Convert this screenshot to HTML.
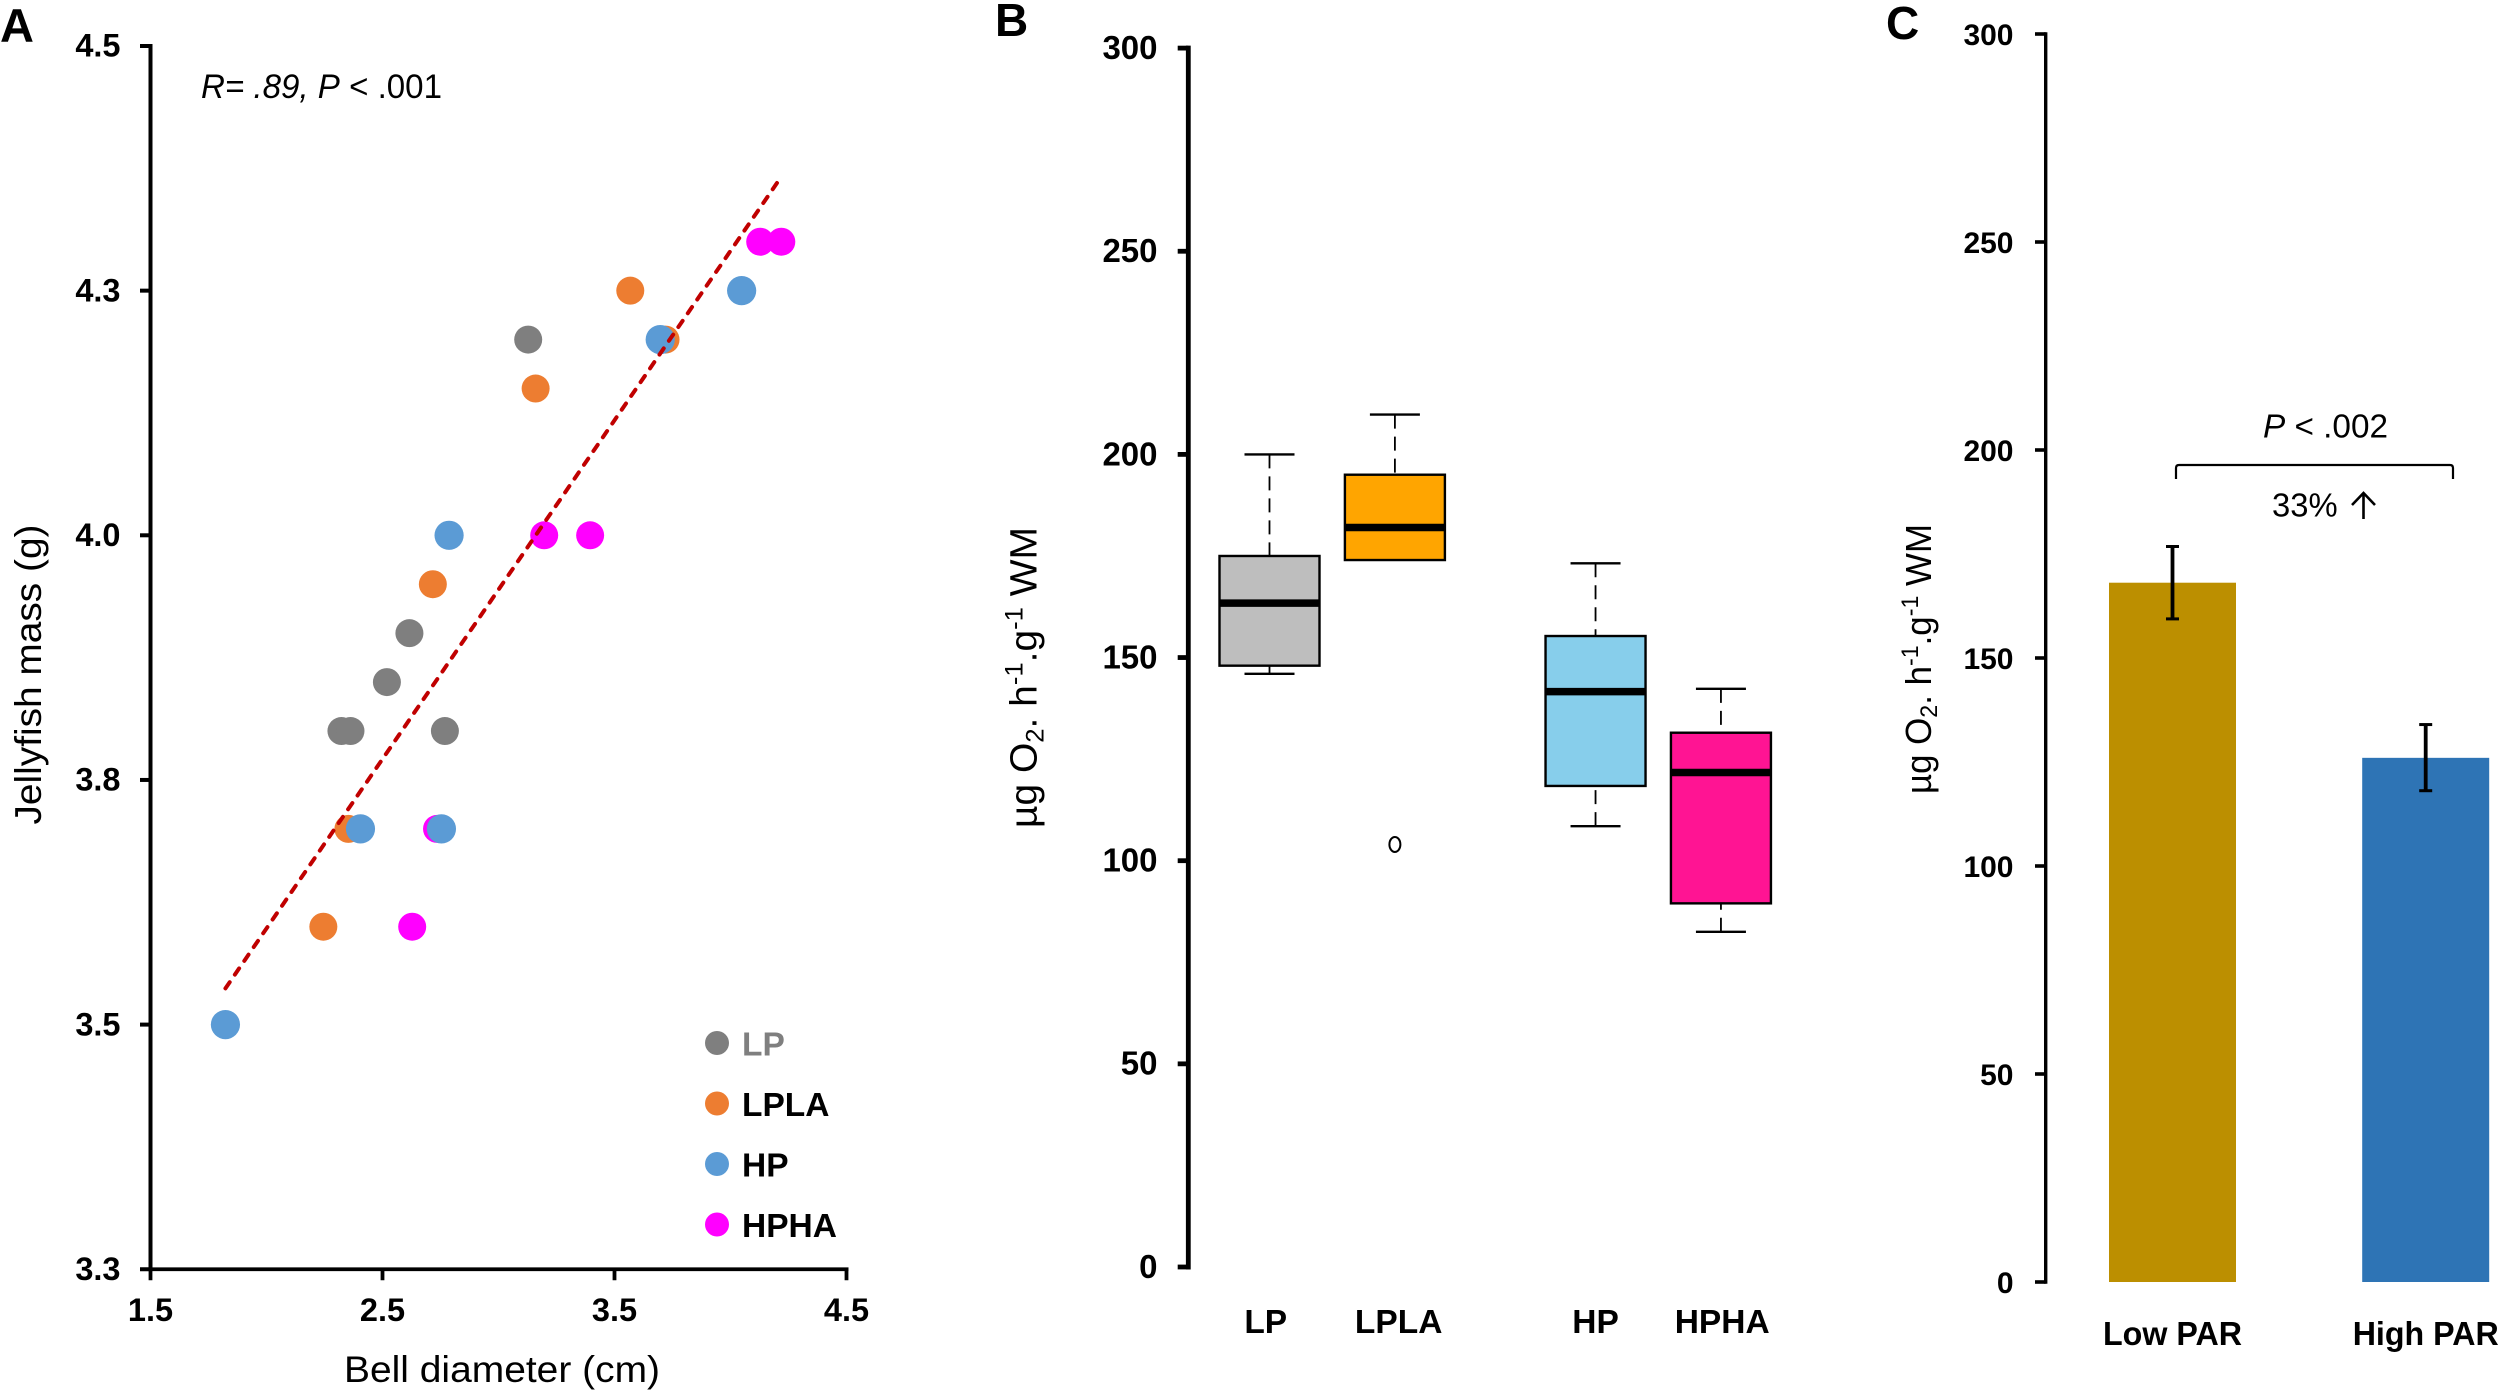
<!DOCTYPE html>
<html lang="en">
<head>
<meta charset="utf-8">
<title>Jellyfish mass and oxygen rates</title>
<style>
html,body{margin:0;padding:0;background:#fff;}
svg{display:block;}
text{font-family:"Liberation Sans",Arial,sans-serif;fill:#000;}
.b{font-weight:bold;}
</style>
</head>
<body>
<svg id="fig" xmlns="http://www.w3.org/2000/svg" width="2500" height="1392" viewBox="0 0 2500 1392">
<rect width="2500" height="1392" fill="#fff"/>
<text class="b" x="0" y="42" font-size="47">A</text>
<text class="b" x="995" y="36" font-size="46">B</text>
<text class="b" x="1886" y="39" font-size="46">C</text>

<text x="201" y="98" font-size="34" font-style="italic" textLength="241" lengthAdjust="spacingAndGlyphs">R= .89, P<tspan font-style="normal"> &lt; .001</tspan></text>
<text x="344" y="1382" font-size="37" textLength="316" lengthAdjust="spacingAndGlyphs">Bell diameter (cm)</text>
<text transform="translate(41,824.5) rotate(-90)" font-size="37" textLength="300" lengthAdjust="spacingAndGlyphs">Jellyfish mass (g)</text>

<text transform="translate(1036.5,828) rotate(-90)" font-size="38" textLength="301" lengthAdjust="spacingAndGlyphs">µg O<tspan dy="7" font-size="25">2</tspan><tspan dy="-7">. h</tspan><tspan dy="-14" font-size="25">-1</tspan><tspan dy="14">.g</tspan><tspan dy="-14" font-size="25">-1</tspan><tspan dy="14"> WM</tspan></text>

<text transform="translate(1931,794) rotate(-90)" font-size="36" textLength="270" lengthAdjust="spacingAndGlyphs">µg O<tspan dy="6" font-size="24">2</tspan><tspan dy="-6">. h</tspan><tspan dy="-13" font-size="24">-1</tspan><tspan dy="13">.g</tspan><tspan dy="-13" font-size="24">-1</tspan><tspan dy="13"> WM</tspan></text>

<path d="M2176 479V468Q2176 465 2179 465H2450Q2453 465 2453 468V479" fill="none" stroke="#000" stroke-width="2.2"/>
<text x="2263" y="437.5" font-size="33.5" textLength="125" lengthAdjust="spacingAndGlyphs"><tspan font-style="italic">P</tspan> &lt; .002</text>
<text x="2272" y="516.5" font-size="33" textLength="65.6" lengthAdjust="spacingAndGlyphs">33%</text>
<path d="M2363.5 519V494M2352 505L2363.5 493L2375 505" fill="none" stroke="#000" stroke-width="2.6"/>

<g id="panelA"></g>
<g id="panelB"></g>
<g id="panelC"></g>
</svg>
<script>
// ---- Panel A data ----
const aXTickValues = [1.5, 2.5, 3.5, 4.5];
const aXTickLabels = ["1.5", "2.5", "3.5", "4.5"];
const aYTickValues = [4.5, 4.25, 4.0, 3.75, 3.5, 3.25];
const aYTickLabels = ["4.5", "4.3", "4.0", "3.8", "3.5", "3.3"];
const lpX = [3.128, 2.616, 2.519, 2.323, 2.362, 2.769];
const lpY = [4.2, 3.9, 3.85, 3.8, 3.8, 3.8];
const lplaX = [3.568, 3.16, 3.72, 2.717, 2.353, 2.245];
const lplaY = [4.25, 4.15, 4.2, 3.95, 3.7, 3.6];
const hpX = [4.048, 3.697, 2.787, 2.405, 2.754, 1.823];
const hpY = [4.25, 4.2, 4.0, 3.7, 3.7, 3.5];
const hphaX = [4.128, 4.219, 3.197, 3.395, 2.735, 2.628];
const hphaY = [4.3, 4.3, 4.0, 4.0, 3.7, 3.6];
const trendX = [1.823, 4.209];
const trendY = [3.537, 4.363];
const legendLabels = ["LP", "LPLA", "HP", "HPHA"];

// ---- Panel B data ----
const boxCategories = ["LP", "LPLA", "HP", "HPHA"];
const boxSlots = [1, 2, 3.6, 4.6];
const boxLabelSlots = [0.97, 2.03, 3.6, 4.61];
const boxLow = [146, 174, 108.5, 82.5];
const boxQ1 = [148, 174, 118.4, 89.5];
const boxMedian = [163.4, 182, 141.6, 121.7];
const boxQ3 = [175, 195, 155.3, 131.5];
const boxHigh = [200, 209.8, 173.2, 142.3];
const boxOutlierSlots = [2];
const boxOutlierValues = [104];
const bTicks = [0, 50, 100, 150, 200, 250, 300];

// ---- Panel C data ----
const barCategories = ["Low PAR", "High PAR"];
const barValues = [168.1, 126];
const barErrHigh = [176.8, 134];
const barErrLow = [159.4, 118.1];
const cTicks = [0, 50, 100, 150, 200, 250, 300];

// ---- Axis functions ----
const xA = v => 150.5 + (v - 1.5) * 232;
const yA = v => 46 + (4.5 - v) * 978.6;
const xB = s => 1269.5 + (s - 1) * 125.4;
const yB = v => 1267 - v * 4.063;
const yC = v => 1282 - v * 4.16;
const xC = i => 2172.5 + i * 253.2;

const NS = "http://www.w3.org/2000/svg";
function mk(tag, attrs, parent) {
  const el = document.createElementNS(NS, tag);
  for (const k in attrs) el.setAttribute(k, attrs[k]);
  parent.appendChild(el);
  return el;
}
function lbl(str, x, y, size, anchor, parent, fit, fill) {
  const a = {x: x, y: y + size * 0.36, "font-size": size, "font-weight": "bold", "text-anchor": anchor};
  if (fit) { a.textLength = fit; a.lengthAdjust = "spacingAndGlyphs"; }
  if (fill) a.style = "fill:" + fill;
  const t = mk("text", a, parent);
  t.textContent = str;
  return t;
}

// ---- Draw Panel A ----
const pA = document.getElementById("panelA");
let el = mk("line", {x1: xA(1.5), y1: yA(4.5) - 2, x2: xA(1.5), y2: yA(3.25) + 2, stroke: "#000", "stroke-width": 4}, pA);


el = mk("line", {x1: xA(1.5) - 1, y1: yA(3.25), x2: xA(4.5) + 2, y2: yA(3.25), stroke: "#000", "stroke-width": 3.8}, pA);


aYTickValues.forEach((v, i) => {
  const t = mk("line", {x1: xA(1.5) - 10.5, y1: yA(v), x2: xA(1.5), y2: yA(v), stroke: "#000", "stroke-width": 4}, pA);
  
  
  const l = lbl(aYTickLabels[i], 120.5, yA(v) - 1, 32.5, "end", pA);
  
  
});
aXTickValues.forEach((v, i) => {
  const t = mk("line", {x1: xA(v), y1: yA(3.25), x2: xA(v), y2: yA(3.25) + 11, stroke: "#000", "stroke-width": 3.8}, pA);
  
  
  const l = lbl(aXTickLabels[i], xA(v), 1309.5, 32.5, "middle", pA);
  
  
});
function drawPoints(xs, ys, color, r, parent) {
  xs.forEach((x, i) => {
    const c = mk("circle", {cx: xA(x), cy: yA(ys[i]), r: r, fill: color}, parent);
    
    
  });
}
drawPoints(lpX, lpY, "#7f7f7f", 14, pA);
drawPoints(lplaX, lplaY, "#ed7d31", 14, pA);
drawPoints(hphaX, hphaY, "#ff00ff", 14, pA);
drawPoints(hpX, hpY, "#5b9bd5", 14.6, pA);
el = mk("line", {x1: xA(trendX[0]), y1: yA(trendY[0]), x2: xA(trendX[1]), y2: yA(trendY[1]), stroke: "#c00000", "stroke-width": 4, "stroke-dasharray": "7.5 9.2", "stroke-linecap": "round"}, pA);


const legendColors = ["#7f7f7f", "#ed7d31", "#5b9bd5", "#ff00ff"];
legendLabels.forEach((name, i) => {
  const cy = 1043 + i * 60.5;
  const c = mk("circle", {cx: 717, cy: cy, r: 12, fill: legendColors[i]}, pA);
  
  
  const t = lbl(name, 742, cy + 0.5, 33.5, "start", pA, null, i === 0 ? "#7f7f7f" : "#000");
  
  
});

// ---- Draw Panel B ----
const pB = document.getElementById("panelB");
el = mk("line", {x1: 1188.3, y1: yB(300) - 2.5, x2: 1188.3, y2: yB(0) + 2.5, stroke: "#000", "stroke-width": 4.8}, pB);


bTicks.forEach(v => {
  const t = mk("line", {x1: 1177.7, y1: yB(v), x2: 1188.3, y2: yB(v), stroke: "#000", "stroke-width": 4.8}, pB);
  
  
  const l = lbl(String(v), 1157.5, yB(v) - 1, 33, "end", pB);
  
  
});
const boxFills = ["#bebebe", "#ffa500", "#87ceeb", "#ff1493"];
boxCategories.forEach((name, i) => {
  const cx = xB(boxSlots[i]);
  if (boxHigh[i] > boxQ3[i]) {
    const w = mk("line", {x1: cx, y1: yB(boxHigh[i]), x2: cx, y2: yB(boxQ3[i]), stroke: "#000", "stroke-width": 1.8, "stroke-dasharray": "14 8"}, pB);
    
    
    const c = mk("line", {x1: cx - 25, y1: yB(boxHigh[i]), x2: cx + 25, y2: yB(boxHigh[i]), stroke: "#000", "stroke-width": 2.4}, pB);
    
    
  }
  if (boxLow[i] < boxQ1[i]) {
    const w = mk("line", {x1: cx, y1: yB(boxLow[i]), x2: cx, y2: yB(boxQ1[i]), stroke: "#000", "stroke-width": 1.8, "stroke-dasharray": "14 8"}, pB);
    
    
    const c = mk("line", {x1: cx - 25, y1: yB(boxLow[i]), x2: cx + 25, y2: yB(boxLow[i]), stroke: "#000", "stroke-width": 2.4}, pB);
    
    
  }
  const r = mk("rect", {x: cx - 50, y: yB(boxQ3[i]), width: 100, height: yB(boxQ1[i]) - yB(boxQ3[i]), fill: boxFills[i], stroke: "#000", "stroke-width": 2.4}, pB);
  
  
  const m = mk("line", {x1: cx - 50, y1: yB(boxMedian[i]), x2: cx + 50, y2: yB(boxMedian[i]), stroke: "#000", "stroke-width": 7.5}, pB);
  
  
  const l = lbl(name, xB(boxLabelSlots[i]), 1321, 33.5, "middle", pB);
  
  
});
boxOutlierValues.forEach((v, i) => {
  const o = mk("ellipse", {cx: xB(boxOutlierSlots[i]), cy: yB(v), rx: 5.5, ry: 7.5, fill: "none", stroke: "#000", "stroke-width": 2}, pB);
  
  
});

// ---- Draw Panel C ----
const pC = document.getElementById("panelC");
el = mk("line", {x1: 2045.7, y1: yC(300) - 1.8, x2: 2045.7, y2: yC(0) + 1.8, stroke: "#000", "stroke-width": 3.4}, pC);


cTicks.forEach(v => {
  const t = mk("line", {x1: 2035, y1: yC(v), x2: 2045.7, y2: yC(v), stroke: "#000", "stroke-width": 3.6}, pC);
  
  
  const l = lbl(String(v), 2013.5, yC(v), 30, "end", pC);
  
  
});
const barFills = ["#bc8f00", "#2e74b5"];
barCategories.forEach((name, i) => {
  const cx = xC(i);
  const b = mk("rect", {x: cx - 63.5, y: yC(barValues[i]), width: 127, height: yC(0) - yC(barValues[i]), fill: barFills[i]}, pC);
  
  
  const e = mk("line", {x1: cx, y1: yC(barErrHigh[i]), x2: cx, y2: yC(barErrLow[i]), stroke: "#000", "stroke-width": 3.8}, pC);
  
  
  const c1 = mk("line", {x1: cx - 6.5, y1: yC(barErrHigh[i]), x2: cx + 6.5, y2: yC(barErrHigh[i]), stroke: "#000", "stroke-width": 3}, pC);
  
  
  const c2 = mk("line", {x1: cx - 6.5, y1: yC(barErrLow[i]), x2: cx + 6.5, y2: yC(barErrLow[i]), stroke: "#000", "stroke-width": 3}, pC);
  
  
  const l = lbl(name, cx, 1333, 33, "middle", pC, name.length === 7 ? 139 : 146);
  
  
});
</script>
</body>
</html>
